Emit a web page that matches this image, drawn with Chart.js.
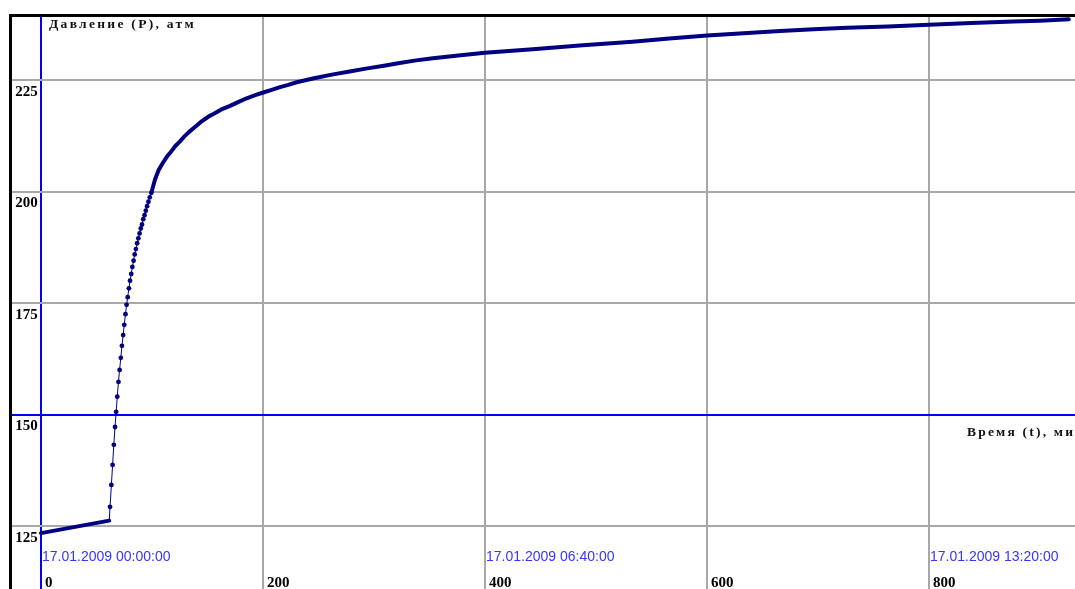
<!DOCTYPE html>
<html>
<head>
<meta charset="utf-8">
<script src="https://cdn.jsdelivr.net/npm/chart.js@4"></script>
<style>
html,body{margin:0;padding:0;background:#fff;overflow:hidden}
canvas{display:block}
</style>
</head>
<body>
<canvas id="c" width="1075" height="589"></canvas>
<script>
// ---- data ----
const timeMin = [
  0, 61.5,
  62.2, 63.4, 64.5, 65.6, 66.7, 67.7, 68.7, 69.8, 70.8, 71.9,
  72.9, 74.0, 75.0, 76.1, 77.1, 78.1, 79.2, 80.2, 81.3, 82.3,
  83.4, 84.4, 85.5, 86.6, 87.7, 88.8, 89.9, 91.0, 92.1, 93.3,
  94.4, 95.6, 96.8, 98.0, 99.4,
  102.7, 106, 110, 114, 117.7, 121, 125, 129, 132.7, 136.5,
  140.3, 144, 147.5, 151.5, 155.3, 162.5, 170.3, 178, 185.3, 193,
  200.3, 207.8, 215.3, 222.8, 230.3, 246, 262, 278, 294, 309,
  323, 338, 353, 376, 400, 443, 488, 533, 566, 600,
  633, 666, 696, 726, 763, 800, 838, 876, 900, 926
];
const pressureAtm = [
  123.4, 126.2,
  129.3, 134.2, 138.7, 143.2, 147.2, 150.6, 154.0, 157.3, 160.0, 162.7,
  165.4, 167.8, 170.1, 172.5, 174.6, 176.3, 178.3, 180.0, 181.5, 183.1,
  184.5, 185.9, 187.1, 188.4, 189.5, 190.6, 191.7, 192.6, 193.8, 194.7,
  195.7, 196.7, 197.7, 198.7, 199.7,
  202.7, 204.8, 206.5, 208.0, 209.1, 210.2, 211.2, 212.3, 213.2, 214.0,
  214.8, 215.6, 216.2, 216.9, 217.4, 218.4, 219.2, 220.1, 220.9, 221.6,
  222.2, 222.8, 223.4, 223.9, 224.5, 225.4, 226.2, 226.9, 227.6, 228.2,
  228.8, 229.4, 229.9, 230.5, 231.1, 231.9, 232.8, 233.6, 234.3, 235.0,
  235.5, 236.0, 236.4, 236.7, 237.0, 237.4, 237.8, 238.1, 238.3, 238.6
];
const xTickValues = [0, 200, 400, 600, 800];
const dateTickValues = [0, 400, 800];
const dateTickLabels = ['17.01.2009 00:00:00', '17.01.2009 06:40:00', '17.01.2009 13:20:00'];
const yTickValues = [125, 150, 175, 200, 225];
const yAxisTitle = 'Давление (P), атм';
const xAxisTitle = 'Время (t), ми';

// ---- styling ----
const NAVY = '#000080';
const GRID = '#a8a8a8';
const AXIS_BLUE = '#0000ff';
const RISE_FROM = 61, RISE_TO = 100;   // sparse-sample stretch drawn as thin line with dots
const X_MIN = -27.03, X_MAX = 931.53;
const Y_MIN = 110.875, Y_MAX = 239.35;

const boldSerif = {family: '"Liberation Serif", "Times New Roman", serif', size: 15, weight: 'bold'};
const noPad = s => { s.paddingLeft = 0; s.paddingRight = 0; s.paddingTop = 0; s.paddingBottom = 0; };
const setTicks = vals => s => { s.ticks = vals.map(v => ({value: v})); };

const decorPlugin = {
  id: 'decor',
  afterDraw(chart) {
    const {ctx, chartArea, scales} = chart;
    ctx.save();
    // frame (top and left)
    ctx.fillStyle = '#000';
    ctx.fillRect(chartArea.left - 2, chartArea.top - 2, chartArea.right - chartArea.left + 2, 3);
    ctx.fillRect(chartArea.left - 2, chartArea.top - 2, 3, chartArea.bottom - chartArea.top + 2);
    // axis titles
    ctx.font = 'bold 13.5px "Liberation Serif", "Times New Roman", serif';
    ctx.textBaseline = 'alphabetic';
    ctx.textAlign = 'left';
    ctx.fillStyle = '#111';
    ctx.letterSpacing = '2.3px';
    ctx.fillText(yAxisTitle, scales.x.getPixelForValue(0) + 8, chartArea.top + 11.5);
    ctx.letterSpacing = '2.2px';
    ctx.fillText(xAxisTitle, 967, scales.y.getPixelForValue(150) + 21);
    ctx.restore();
  }
};

new Chart(document.getElementById('c'), {
  type: 'line',
  data: {
    datasets: [{
      data: timeMin.map((t, i) => ({x: t, y: pressureAtm[i]})),
      borderColor: NAVY,
      backgroundColor: NAVY,
      borderWidth: 4,
      borderCapStyle: 'round',
      borderJoinStyle: 'round',
      tension: 0,
      pointRadius: c => {
        const v = c.raw && c.raw.x;
        return (v > RISE_FROM + 1 && v < RISE_TO) ? 2.4 : 0;
      },
      pointBorderWidth: 0,
      pointHoverRadius: 0,
      segment: {
        borderWidth: c => (c.p0.parsed.x >= RISE_FROM && c.p0.parsed.x < RISE_TO - 1) ? 1 : 4
      }
    }]
  },
  options: {
    responsive: false,
    animation: false,
    events: [],
    layout: {padding: {left: 11, top: 16, right: 0, bottom: 0}},
    plugins: {legend: {display: false}, tooltip: {enabled: false}},
    scales: {
      x: {
        type: 'linear', min: X_MIN, max: X_MAX,
        position: {y: 125},
        afterBuildTicks: setTicks(xTickValues),
        afterFit: noPad,
        grid: {
          color: c => (c.tick && c.tick.value === 0) ? AXIS_BLUE : GRID,
          lineWidth: 2, drawTicks: false
        },
        border: {display: false},
        ticks: {
          align: 'start', labelOffset: 4, padding: 48, autoSkip: false, maxRotation: 0,
          font: boldSerif, color: '#000'
        }
      },
      xd: {
        type: 'linear', axis: 'x', min: X_MIN, max: X_MAX,
        position: {y: 125},
        afterBuildTicks: setTicks(dateTickValues),
        afterFit: noPad,
        grid: {display: false, drawTicks: false},
        border: {display: false},
        ticks: {
          align: 'start', labelOffset: 1, padding: 23, autoSkip: false, maxRotation: 0,
          font: {family: '"Liberation Sans", Arial, sans-serif', size: 14},
          color: '#3535ff',
          callback: v => dateTickLabels[dateTickValues.indexOf(v)]
        }
      },
      y: {
        type: 'linear', min: Y_MIN, max: Y_MAX,
        position: {x: -3},
        afterBuildTicks: setTicks(yTickValues),
        afterFit: noPad,
        grid: {
          color: c => (c.tick && c.tick.value === 150) ? AXIS_BLUE : GRID,
          lineWidth: 2, drawTicks: false
        },
        border: {display: false},
        ticks: {labelOffset: 12, autoSkip: false, font: boldSerif, color: '#000'}
      }
    }
  },
  plugins: [decorPlugin]
});
</script>
</body>
</html>
